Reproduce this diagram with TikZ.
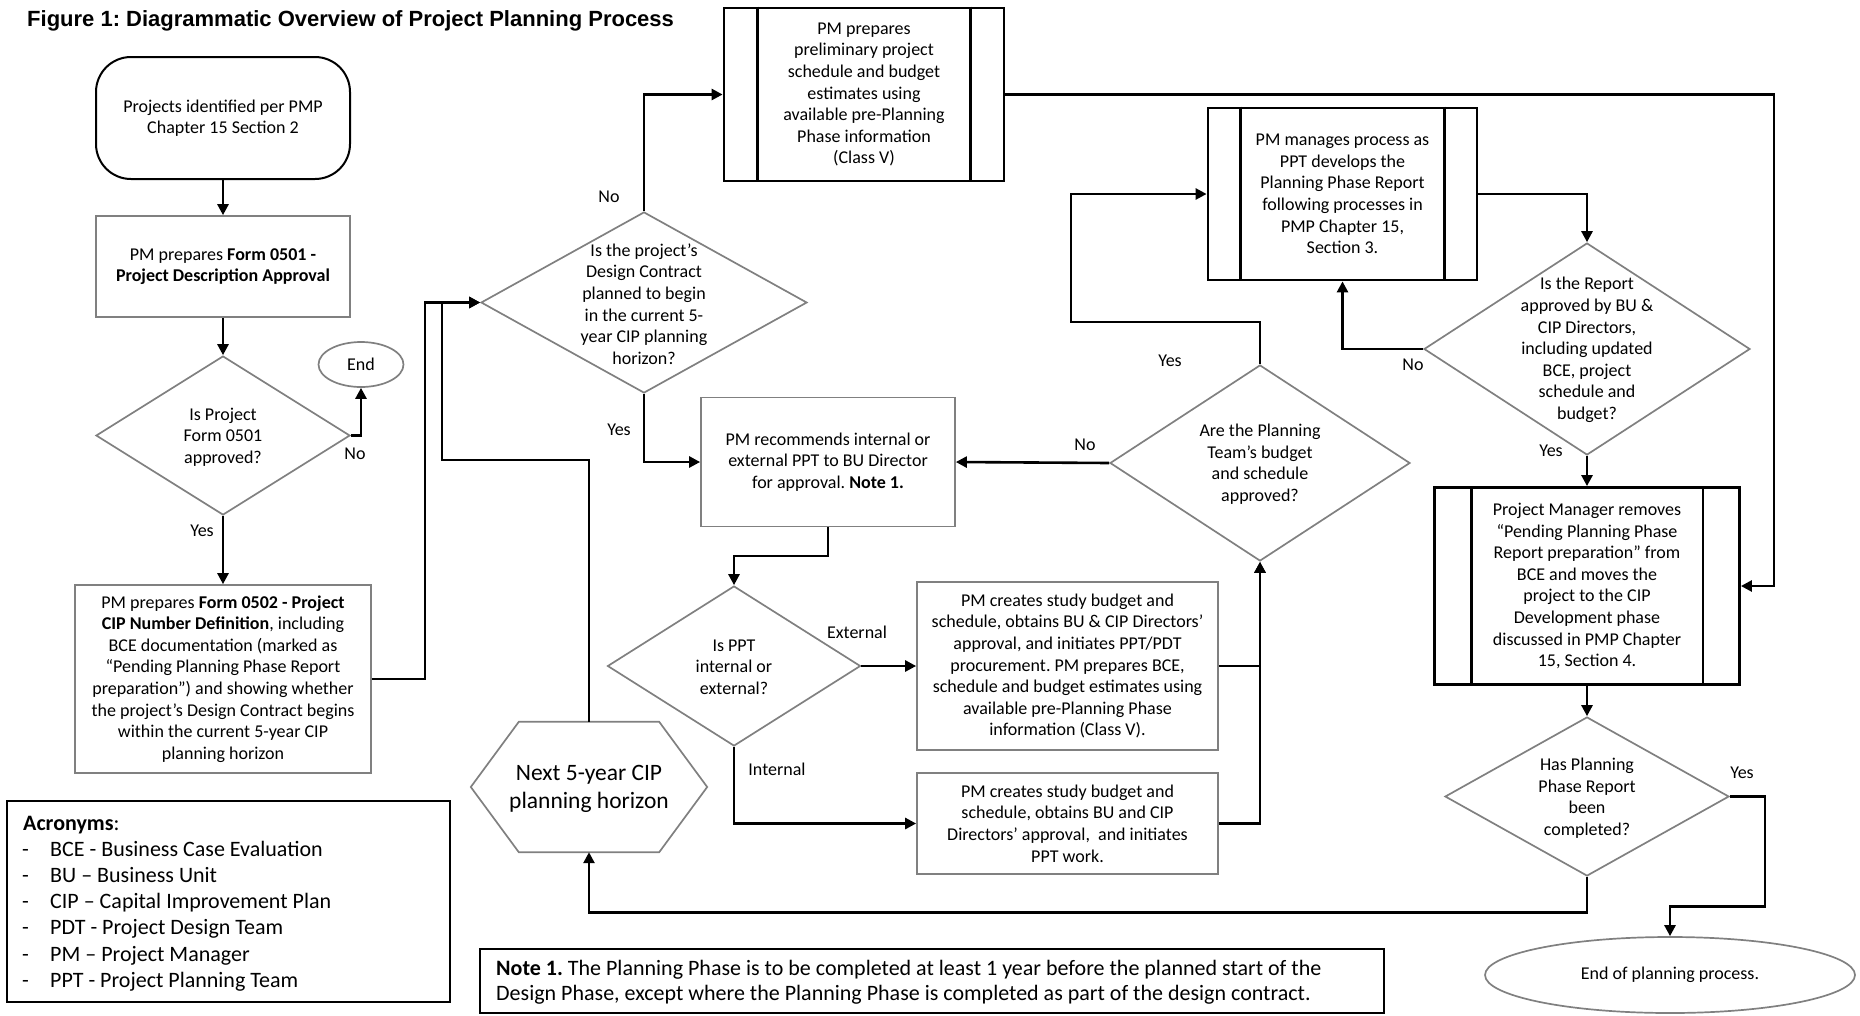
\documentclass[tikz,border=0pt]{standalone}
\usepackage{fontspec}
\setmainfont{Carlito}
\newfontfamily\titlefont{Liberation Sans}
\usetikzlibrary{arrows.meta,shapes.geometric}
\newcommand\myacrfont{\fontsize{22}{26}\selectfont}
\newcommand\mynotefont{\fontsize{22}{25.4}\selectfont}
\newcommand\myhexfont{\fontsize{23.5}{28.5}\selectfont}
\frenchspacing
\begin{document}
\begin{tikzpicture}[x=1pt,y=-1pt,
  every node/.style={font=\fontsize{18}{21.6}\selectfont, inner sep=2pt, text=black},
  conn/.style={line width=2.6pt, draw=black},
  arr/.style={conn, -{Triangle[length=11pt,width=11pt]}},
  grayline/.style={draw=black!50, line width=1.7pt},
  graybox/.style={rectangle, grayline, align=center},
  predef/.style={rectangle, draw=black, line width=2.8pt, align=center},
  decision/.style={diamond, grayline, inner sep=0pt},
  dtext/.style={align=center, inner sep=0pt},
  lbl/.style={inner sep=0pt}
]
\useasboundingbox (0,0) rectangle (1860,1015);

% title
\node[anchor=west, inner sep=0pt, font=\titlefont\bfseries\fontsize{22}{26}\selectfont] (title) at (27,21)
  {Figure 1: Diagrammatic Overview of Project Planning Process};

% left column
\node[draw=black, line width=2pt, rounded corners=35pt, minimum width=254pt, minimum height=122pt, align=center] (start) at (223,118)
  {Projects identified per PMP\\Chapter 15 Section 2};
\node[graybox, minimum width=254pt, minimum height=101pt] (f501) at (223,266.5)
  {PM prepares \textbf{Form 0501 -}\\\textbf{Project Description Approval}};
\node[decision, minimum width=254pt, minimum height=159pt] (d1) at (223,435.5) {};
\node[dtext] (d1t) at (223,437) {Is Project\\Form 0501\\approved?};
\node[ellipse, grayline, minimum width=85pt, minimum height=45pt, inner sep=0pt] (end1) at (361,364.5) {End};
\node[graybox, minimum width=296pt, minimum height=188pt, inner sep=0pt] (f502) at (223,679)
  {PM prepares \textbf{Form 0502 - Project}\\\textbf{CIP Number Definition}, including\\BCE documentation (marked as\\“Pending Planning Phase Report\\preparation”) and showing whether\\the project’s Design Contract begins\\within the current 5-year CIP\\planning horizon};

% hexagon
\node[minimum width=236pt, minimum height=130pt, inner sep=0pt] (hex) at (589,787) {};
\draw[grayline] (hex.west) -- ([xshift=48pt]hex.north west) -- ([xshift=-48pt]hex.north east) -- (hex.east)
  -- ([xshift=-48pt]hex.south east) -- ([xshift=48pt]hex.south west) -- cycle;
\node[dtext, font=\myhexfont] (hext) at (589,789) {Next 5-year CIP\\planning horizon};

% middle
\node[decision, minimum width=326pt, minimum height=181pt] (d2) at (644,302.5) {};
\node[dtext] (d2t) at (644,304) {Is the project’s\\Design Contract\\planned to begin\\in the current 5-\\year CIP planning\\horizon?};
\node[predef, minimum width=280pt, minimum height=173pt] (pp) at (864,94.5)
  {PM prepares\\preliminary project\\schedule and budget\\estimates using\\available pre-Planning\\Phase information\\(Class V)};
\draw[line width=2.8pt] ([xshift=35pt]pp.north west) -- ([xshift=35pt]pp.south west);
\draw[line width=2.8pt] ([xshift=-35pt]pp.north east) -- ([xshift=-35pt]pp.south east);
\node[graybox, minimum width=254pt, minimum height=129pt] (rec) at (828,462)
  {PM recommends internal or\\external PPT to BU Director\\for approval. \textbf{Note 1.}};
\node[decision, minimum width=253pt, minimum height=160pt] (d6) at (734,666) {};
\node[dtext] (d6t) at (734,667) {Is PPT\\internal or\\external?};
\node[graybox, minimum width=301pt, minimum height=168pt, inner sep=0pt] (ext) at (1067.5,666)
  {PM creates study budget and\\schedule, obtains BU \& CIP Directors’\\approval, and initiates PPT/PDT\\procurement. PM prepares BCE,\\schedule and budget estimates using\\available pre-Planning Phase\\information (Class V).};
\node[graybox, minimum width=301pt, minimum height=101pt, inner sep=0pt] (int) at (1067.5,823.5)
  {PM creates study budget and\\schedule, obtains BU and CIP\\Directors’ approval,\ \ and initiates\\PPT work.};
\node[decision, minimum width=300pt, minimum height=196pt] (d3) at (1260,463) {};
\node[dtext] (d3t) at (1260,464) {Are the Planning\\Team’s budget\\and schedule\\approved?};

% right
\node[predef, minimum width=269pt, minimum height=172pt] (pmm) at (1342.5,194)
  {PM manages process as\\PPT develops the\\Planning Phase Report\\following processes in\\PMP Chapter 15,\\Section 3.};
\draw[line width=2.8pt] ([xshift=34pt]pmm.north west) -- ([xshift=34pt]pmm.south west);
\draw[line width=2.8pt] ([xshift=-34pt]pmm.north east) -- ([xshift=-34pt]pmm.south east);
\node[decision, minimum width=326pt, minimum height=212pt] (d4) at (1587,349) {};
\node[dtext] (d4t) at (1587,350) {Is the Report\\approved by BU \&\\CIP Directors,\\including updated\\BCE, project\\schedule and\\budget?};
\node[predef, minimum width=305pt, minimum height=197pt, inner sep=0pt] (pmr) at (1587,586)
  {Project Manager removes\\“Pending Planning Phase\\Report preparation” from\\BCE and moves the\\project to the CIP\\Development phase\\discussed in PMP Chapter\\15, Section 4.};
\draw[line width=2.8pt] ([xshift=38pt]pmr.north west) -- ([xshift=38pt]pmr.south west);
\draw[line width=2.8pt] ([xshift=-38pt]pmr.north east) -- ([xshift=-38pt]pmr.south east);
\node[decision, minimum width=284pt, minimum height=159pt] (d5) at (1587,796.5) {};
\node[dtext] (d5t) at (1587,798) {Has Planning\\Phase Report\\been\\completed?};
\node[ellipse, grayline, minimum width=370pt, minimum height=76pt, inner sep=0pt] (endp) at (1670,975) {End of planning process.};

% acronyms
\node[rectangle, draw=black, line width=2.3pt, minimum width=443pt, minimum height=201pt] (acr) at (228.5,901.5) {};
\node[anchor=base west, font=\myacrfont] (acrh) at (21,830) {\textbf{Acronyms}:};
\foreach \t [count=\i] in {BCE - Business Case Evaluation, BU – Business Unit, CIP – Capital Improvement Plan, PDT - Project Design Team, PM – Project Manager, PPT - Project Planning Team} {
  \node[anchor=base west, font=\myacrfont] (acrd\i) at (20,{830+26.2*\i}) {-};
  \node[anchor=base west, font=\myacrfont] (acrl\i) at (48,{830+26.2*\i}) {\t};
}

% note
\node[rectangle, draw=black, line width=2.3pt, minimum width=904pt, minimum height=64pt] (note) at (932,981) {};
\node[anchor=west, align=left, font=\mynotefont] (notet) at (494,982)
  {\textbf{Note 1.} The Planning Phase is to be completed at least 1 year before the planned start of the\\Design Phase, except where the Planning Phase is completed as part of the design contract.};

% junction coordinates
\coordinate (j1) at (425,302.5);
\coordinate (j2) at (442,460);
\coordinate (j3) at (828,556);
\coordinate (j4) at (1071,322);
\coordinate (j5) at (1774,94.5);
\coordinate (j6) at (1765,906.5);
\coordinate (j7) at (1587,912.5);

% connectors
\draw[arr] (start.south) -- (f501.north);
\draw[arr] (f501.south) -- (d1.north);
\draw[arr] (d1.east) -| (end1.south);
\draw[arr] (d1.south) -- (f502.north);
\draw[arr] (f502.east) -| (j1) -- (d2.west);
\draw[arr] (hex.north) |- (j2) |- (d2.west);
\draw[arr] (d2.north) |- (pp.west);
\draw[arr] (d2.south) |- (rec.west);
\draw[arr] (rec.south) -- (j3) -| (d6.north);
\draw[arr] (d6.east) -- (ext.west);
\draw[arr] (d6.south) |- (int.west);
\draw[arr] (ext.east) -| (d3.south);
\draw[arr] (int.east) -| (d3.south);
\draw[arr] (d3.west) -- (rec.east);
\draw[arr] (d3.north) |- (j4) |- (pmm.west);
\draw[arr] (pmm.east) -| (d4.north);
\draw[arr] (d4.west) -| (pmm.south);
\draw[arr] (d4.south) -- (pmr.north);
\draw[arr] (pp.east) -- (j5) |- (pmr.east);
\draw[arr] (pmr.south) -- (d5.north);
\draw[arr] (d5.east) -| (j6) -| (endp.north);
\draw[arr] (d5.south) -- (j7) -| (hex.south);

% labels
\node[lbl] (l1) at (355,454) {No};
\node[lbl] (l2) at (202,531) {Yes};
\node[lbl] (l3) at (609,197) {No};
\node[lbl] (l4) at (619,430) {Yes};
\node[lbl] (l5) at (1085,445) {No};
\node[lbl] (l6) at (1170,361) {Yes};
\node[lbl] (l7) at (1413,365) {No};
\node[lbl] (l8) at (1551,451) {Yes};
\node[lbl] (l9) at (857,632.5) {External};
\node[lbl] (l10) at (777,769) {Internal};
\node[lbl] (l11) at (1742,773) {Yes};
\end{tikzpicture}
\end{document}
